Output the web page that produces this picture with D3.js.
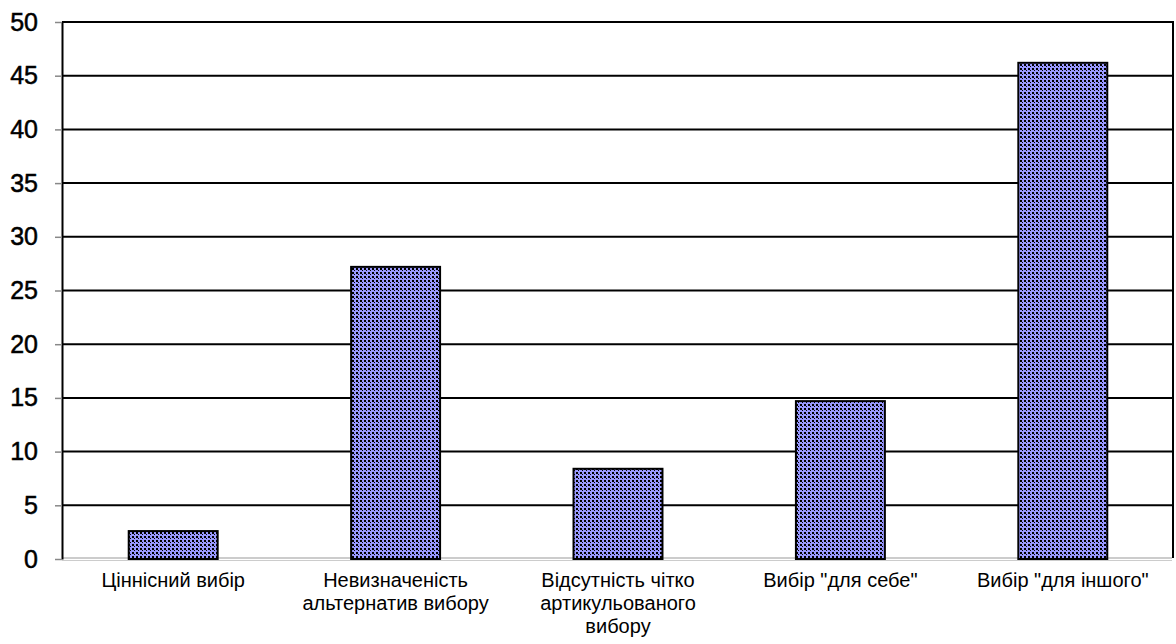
<!DOCTYPE html>
<html>
<head>
<meta charset="utf-8">
<script src="https://cdn.jsdelivr.net/npm/d3@7"></script>
<style>
  body { margin: 0; background: #fff; }
  text { font-family: "Liberation Sans", Arial, sans-serif; }
</style>
</head>
<body>
<script>
const categories = [
  ["Ціннісний вибір"],
  ["Невизначеність", "альтернатив вибору"],
  ["Відсутність чітко", "артикульованого", "вибору"],
  ["Вибір \"для себе\""],
  ["Вибір \"для іншого\""]
];
const values = [2.6, 27.2, 8.4, 14.7, 46.2];
const yTicks = [0, 5, 10, 15, 20, 25, 30, 35, 40, 45, 50];

const width = 1176, height = 644;
const margin = { left: 62, right: 2, top: 22, bottom: 85 };

const svg = d3.select("body").append("svg")
  .attr("width", width)
  .attr("height", height);

const defs = svg.append("defs");
const pat = defs.append("pattern")
  .attr("id", "dots")
  .attr("patternUnits", "userSpaceOnUse")
  .attr("width", 4).attr("height", 4);
pat.append("rect").attr("width", 4).attr("height", 4).attr("fill", "#9999ff");
pat.append("rect").attr("x", 0).attr("y", 0).attr("width", 2).attr("height", 2).attr("fill", "#000");
pat.append("rect").attr("x", 2).attr("y", 2).attr("width", 1).attr("height", 1).attr("fill", "#000");

const x = d3.scaleBand()
  .domain(d3.range(categories.length))
  .range([margin.left, width - margin.right])
  .paddingInner(0.6)
  .paddingOuter(0.3);

const y = d3.scaleLinear()
  .domain([0, 50])
  .range([height - margin.bottom, margin.top]);

// gridlines
svg.append("g")
  .selectAll("line")
  .data(yTicks.filter(d => d > 0))
  .enter()
  .append("line")
  .attr("x1", margin.left)
  .attr("x2", width - margin.right)
  .attr("y1", d => y(d))
  .attr("y2", d => y(d))
  .attr("stroke", "#000")
  .attr("stroke-width", 2);

// baseline
svg.append("line")
  .attr("x1", margin.left).attr("x2", width - margin.right - 2)
  .attr("y1", y(0) - 1).attr("y2", y(0) - 1)
  .attr("stroke", "#999").attr("stroke-width", 1);
svg.append("line")
  .attr("x1", margin.left).attr("x2", width - margin.right - 2)
  .attr("y1", y(0) + 1.5).attr("y2", y(0) + 1.5)
  .attr("stroke", "#ccc").attr("stroke-width", 1);

// right border
svg.append("line")
  .attr("x1", width - margin.right - 1).attr("x2", width - margin.right - 1)
  .attr("y1", margin.top).attr("y2", y(0) - 1)
  .attr("stroke", "#000").attr("stroke-width", 2);

// bars
svg.append("g")
  .selectAll("rect")
  .data(values)
  .enter()
  .append("rect")
  .attr("x", (d, i) => x(i))
  .attr("y", d => y(d))
  .attr("width", x.bandwidth())
  .attr("height", d => y(0) - y(d))
  .attr("fill", "url(#dots)")
  .attr("stroke", "#000")
  .attr("stroke-width", 2);

// y axis
const yAxis = svg.append("g")
  .attr("transform", `translate(${margin.left},0)`)
  .call(d3.axisLeft(y).tickValues(yTicks).tickSize(7).tickPadding(17).tickSizeOuter(0));
yAxis.attr("font-size", null).attr("font-family", null);
yAxis.select(".domain").attr("stroke", "#000").attr("stroke-width", 2);
yAxis.selectAll(".tick line").attr("stroke", "#888").attr("stroke-width", 1.5);
yAxis.selectAll(".tick text")
  .style("font-size", "25px")
  .style("font-family", "'Liberation Sans', Arial, sans-serif")
  .attr("fill", "#000")
  .attr("stroke", "#000")
  .attr("stroke-width", 0.5);

// x labels
const xl = svg.append("g")
  .selectAll("text")
  .data(categories)
  .enter()
  .append("text")
  .attr("x", (d, i) => x(i) + x.bandwidth() / 2)
  .attr("y", 587)
  .attr("text-anchor", "middle")
  .style("font-size", "20px")
  .attr("fill", "#000");
xl.selectAll("tspan")
  .data(d => d)
  .enter()
  .append("tspan")
  .attr("x", function() { return this.parentNode.getAttribute("x"); })
  .attr("dy", (d, i) => i === 0 ? 0 : 23)
  .text(d => d);
</script>
</body>
</html>
